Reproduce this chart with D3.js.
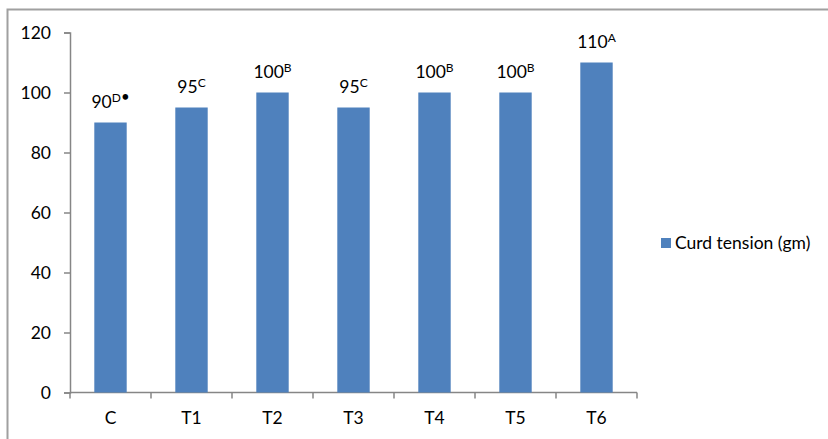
<!DOCTYPE html>
<html>
<head>
<meta charset="utf-8">
<script src="https://cdn.jsdelivr.net/npm/d3@7"></script>
<style>
  html, body { margin: 0; padding: 0; background: #fff; }
  svg { display: block; font-family: Lato, "Open Sans", sans-serif; }
</style>
</head>
<body>
<svg id="chart" width="828" height="439"></svg>
<script>
// Curd tension by treatment
const categories = ["C", "T1", "T2", "T3", "T4", "T5", "T6"];
const values = [90, 95, 100, 95, 100, 100, 110];
const letters = ["D", "C", "B", "C", "B", "B", "A"];
const marks = ["•", "", "", "", "", "", ""];
const yTicks = [0, 20, 40, 60, 80, 100, 120];
const seriesName = "Curd tension (gm)";

const svg = d3.select("#chart");
const barColor = "#4F81BD";
const axisColor = "#868686";
const fontSize = 17.5;

// outer frame (top and left edges)
svg.append("path")
  .attr("d", "M7.5,440 L7.5,9.5 L830,9.5")
  .attr("fill", "none")
  .attr("stroke", "#a0a0a0")
  .attr("stroke-width", 2);

const x = d3.scaleBand().domain(categories).range([70, 637]).paddingInner(0.6).paddingOuter(0.3);
const y = d3.scaleLinear().domain([0, 120]).range([392.5, 32.5]);

// y axis
const yAxis = svg.append("g")
  .attr("transform", "translate(70,0)")
  .call(d3.axisLeft(y).tickValues(yTicks).tickSize(6).tickPadding(13));
// x axis
const xAxis = svg.append("g")
  .attr("transform", "translate(0,392.5)")
  .call(d3.axisBottom(x).tickSize(0).tickPadding(19));

[yAxis, xAxis].forEach(g => {
  g.select(".domain").attr("stroke", axisColor).attr("stroke-width", 1.5);
  g.selectAll(".tick line").attr("stroke", axisColor).attr("stroke-width", 1.5);
  g.selectAll("text").attr("fill", "#000").attr("font-size", fontSize).attr("font-family", "Lato, 'Open Sans', sans-serif");
});
xAxis.select(".domain").remove();
xAxis.insert("line", ":first-child")
  .attr("x1", 70).attr("x2", 637).attr("y1", 0).attr("y2", 0)
  .attr("stroke", axisColor).attr("stroke-width", 1.5);

// category separators below the x axis
const sepPositions = d3.range(categories.length + 1).map(i => 70 + i * x.step());
xAxis.selectAll("line.sep").data(sepPositions).join("line")
  .attr("class", "sep")
  .attr("x1", d => d).attr("x2", d => d)
  .attr("y1", 0).attr("y2", 6)
  .attr("stroke", axisColor).attr("stroke-width", 1.5);

// bars
svg.append("g").selectAll("rect").data(values).join("rect")
  .attr("x", (d, i) => x(categories[i]))
  .attr("width", x.bandwidth())
  .attr("y", d => y(d))
  .attr("height", d => y(0) - y(d))
  .attr("fill", barColor);

// value labels with significance letters
const labels = svg.append("g").selectAll("text").data(values).join("text")
  .attr("x", (d, i) => x(categories[i]) + x.bandwidth() / 2)
  .attr("y", d => y(d) - 15)
  .attr("text-anchor", "middle")
  .attr("font-size", fontSize)
  .attr("fill", "#000");
labels.append("tspan").text(d => d);
labels.append("tspan")
  .attr("font-size", 12)
  .attr("dy", -6)
  .text((d, i) => letters[i]);
labels.append("tspan")
  .attr("font-size", 15)
  .attr("dy", 0)
  .text((d, i) => marks[i]);

// legend
const legend = svg.append("g").attr("transform", "translate(661,238)");
legend.append("rect").attr("width", 10).attr("height", 10).attr("fill", barColor);
legend.append("text")
  .attr("x", 14).attr("y", 11)
  .attr("font-size", fontSize)
  .attr("fill", "#000")
  .text(seriesName);
</script>
</body>
</html>
